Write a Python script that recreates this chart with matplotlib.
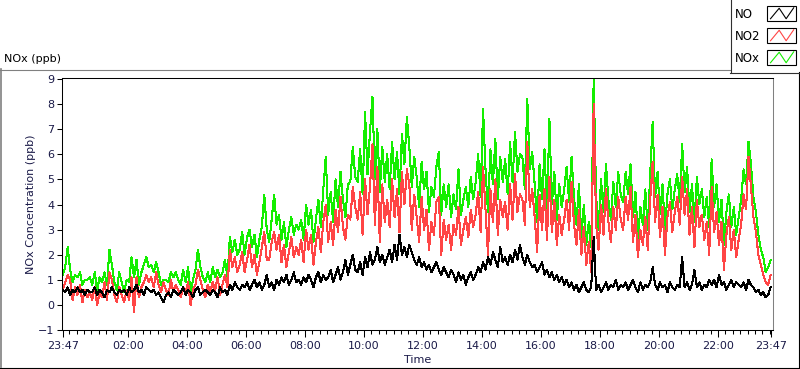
import numpy as np
import matplotlib.pyplot as plt
from matplotlib.patches import Rectangle

plt.rcParams['font.family'] = ['DejaVu Sans']

# 5-minute samples starting 23:47, one line per hour (12 values)
no = [
    0.6, 0.5, 0.7, 0.4, 0.6, 0.5, 0.7, 0.5, 0.6, 0.4, 0.6, 0.5,
    0.5, 0.7, 0.4, 0.6, 0.5, 0.3, 0.6, 0.5, 0.7, 0.5, 0.4, 0.6,
    0.5, 0.6, 0.4, 0.7, 0.5, 0.6, 0.8, 0.5, 0.6, 0.4, 0.7, 0.6,
    0.5, 0.6, 0.4, 0.5, 0.3, 0.1, 0.4, 0.5, 0.3, 0.6, 0.5, 0.4,
    0.5, 0.7, 0.4, 0.6, 0.5, 0.3, 0.6, 0.7, 0.4, 0.5, 0.6, 0.5,
    0.4, 0.6, 0.5, 0.3, 0.7, 0.5, 0.6, 0.4, 0.8, 0.6, 0.9, 0.7,
    0.6, 0.8, 0.7, 0.9, 0.6, 0.8, 1.0, 0.7, 0.9, 0.6, 0.8, 1.2,
    0.7, 0.9, 0.6, 1.0, 0.8, 1.1, 0.9, 1.2, 0.8, 1.0, 1.3, 0.9,
    1.0, 0.8, 1.1, 0.9, 1.2, 1.0, 0.7, 1.1, 1.3, 0.9, 1.2, 1.0,
    1.1, 1.4, 0.9, 1.2, 1.5, 1.0, 1.3, 1.8, 1.2, 1.6, 2.0, 1.4,
    1.3, 1.7, 1.2, 1.9, 1.5, 2.1, 1.6, 1.8, 2.3, 1.7, 2.0, 1.6,
    1.9, 2.2, 1.7, 2.4, 1.8, 2.8, 2.0, 2.3, 1.9, 2.4, 2.1, 1.8,
    1.6, 1.9, 1.5, 1.7, 1.4, 1.6, 1.3, 1.5, 1.7, 1.4, 1.2, 1.5,
    1.3, 1.1, 1.4, 1.2, 0.9, 1.3, 1.0, 1.2, 0.8, 1.1, 1.3, 1.0,
    1.2, 1.5, 1.3, 1.7, 1.4, 1.9, 1.6, 2.1, 1.8, 1.5, 2.3, 1.7,
    1.9, 1.6, 2.0, 1.7, 2.2, 1.8, 2.4, 1.9, 1.6, 2.0, 1.7, 1.5,
    1.6, 1.3, 1.5, 1.7, 1.2, 1.4, 1.1, 1.3, 1.0, 1.2, 0.9, 1.1,
    0.8, 1.0, 0.7, 0.9, 0.6, 0.8, 0.5, 0.7, 0.9, 0.6, 0.5, 0.7,
    2.7, 0.6, 0.8, 0.5, 0.7, 0.9, 0.6, 0.8, 0.7, 1.0, 0.6, 0.8,
    0.7, 0.9, 0.6, 0.8, 1.0, 0.7, 0.5, 0.9, 0.6, 0.8, 0.7, 0.9,
    1.5, 0.8, 0.6, 0.9, 0.7, 0.8, 0.5, 0.9, 0.7, 0.6, 0.8, 0.7,
    1.9, 0.7, 0.9, 0.6, 0.8, 1.4, 0.7, 0.9, 0.6, 0.8, 0.7, 1.0,
    0.8, 1.0, 0.7, 1.2, 0.8, 0.9, 0.6, 0.8, 1.0, 0.7, 0.9, 0.8,
    0.7, 0.9, 0.6, 1.0, 0.8, 0.7, 0.5, 0.6, 0.4, 0.5, 0.3, 0.4,
    0.7,
]
no2 = [
    0.6, 0.9, 1.2, 1.0, 0.2, 0.7, 0.4, 0.8, 0.1, 0.6, 0.3, 0.5,
    0.2, 0.7, 0.0, 0.5, 0.3, 0.9, 0.2, 1.3, 1.0, 0.4, 0.1, 0.7,
    0.4, 0.1, 0.6, 0.2, 1.1, -0.3, 1.1, 0.3, 0.7, 0.9, 1.2, 0.9,
    1.1, 0.7, 1.3, 0.8, 0.5, 0.9, 0.6, 0.4, 1.0, 0.5, 0.8, 0.6,
    0.3, 0.7, 0.5, 0.9, 0.0, 0.6, 0.8, 1.4, 1.0, 0.6, 0.3, 0.8,
    0.5, 0.9, 0.6, 1.1, 0.4, 0.8, 1.2, 0.7, 2.2, 1.5, 1.9, 1.3,
    1.6, 2.1, 1.3, 1.8, 2.4, 1.5, 2.0, 1.2, 1.7, 2.3, 2.9, 1.8,
    1.8, 2.5, 2.9, 2.2, 2.8, 1.7, 2.4, 1.5, 2.1, 2.7, 1.9, 2.3,
    2.0, 2.6, 1.7, 3.0, 2.2, 2.8, 1.6, 2.5, 3.1, 2.1, 3.3, 4.0,
    2.5, 3.3, 2.4, 3.8, 2.9, 4.3, 3.1, 2.6, 3.6, 3.4, 4.7, 3.9,
    3.4, 4.5, 2.8, 5.0, 3.6, 4.7, 6.4, 3.2, 5.5, 2.5, 4.8, 3.3,
    4.2, 3.1, 5.0, 3.5, 4.6, 2.9, 5.3, 4.0, 5.4, 4.8, 3.0, 4.4,
    3.5, 2.5, 4.3, 3.0, 3.8, 2.2, 3.3, 2.8, 4.1, 4.3, 2.0, 3.4,
    2.6, 3.2, 2.2, 3.2, 2.8, 3.9, 2.4, 3.0, 3.5, 2.7, 3.8, 3.1,
    3.6, 4.5, 2.9, 5.5, 3.8, 2.0, 4.6, 3.3, 5.0, 2.8, 4.2, 3.5,
    4.1, 3.0, 4.8, 3.4, 5.2, 3.7, 4.4, 4.2, 3.2, 6.5, 3.9, 4.6,
    3.5, 2.1, 4.4, 3.0, 4.6, 2.6, 5.1, 2.9, 4.2, 2.4, 3.6, 2.8,
    3.4, 4.2, 3.0, 4.9, 3.2, 2.4, 3.8, 2.0, 3.1, 1.6, 2.5, 1.3,
    8.0, 3.2, 2.2, 4.0, 2.8, 4.6, 3.3, 2.5, 3.9, 3.0, 4.3, 3.4,
    3.0, 4.3, 3.4, 4.7, 2.5, 3.6, 1.9, 3.0, 2.4, 3.5, 2.2, 4.2,
    5.7, 3.3, 4.4, 2.7, 3.9, 2.0, 3.5, 4.1, 2.9, 3.7, 4.3, 3.2,
    5.1, 3.6, 4.6, 2.8, 3.9, 2.3, 4.2, 3.1, 3.6, 2.6, 3.3, 2.0,
    4.7, 2.9, 3.7, 2.4, 3.3, 1.4, 2.8, 3.5, 2.2, 3.0, 1.9, 2.6,
    3.2, 4.4, 3.8, 5.9, 4.7, 3.5, 2.9, 2.0, 1.6, 1.2, 0.9, 0.8,
    1.2,
]
nox = [
    1.2, 1.5, 2.3, 1.4, 0.9, 1.2, 1.1, 1.3, 0.8, 1.0, 1.0, 1.1,
    0.8, 1.3, 0.6, 1.1, 0.9, 1.3, 0.8, 2.2, 1.6, 0.9, 0.6, 1.3,
    0.9, 0.5, 1.0, 0.9, 1.9, 1.1, 1.8, 0.8, 1.3, 1.6, 1.9, 1.5,
    1.6, 1.3, 1.7, 1.3, 0.8, 1.0, 1.0, 0.9, 1.3, 1.1, 1.3, 1.0,
    0.8, 1.4, 0.9, 1.5, 0.5, 1.0, 1.4, 2.2, 1.5, 1.1, 0.9, 1.3,
    0.9, 1.5, 1.1, 1.4, 1.1, 1.3, 1.8, 1.1, 2.7, 2.1, 2.6, 2.0,
    2.2, 2.9, 2.0, 2.7, 3.0, 2.3, 2.8, 1.9, 2.6, 3.1, 4.4, 3.0,
    2.5, 3.4, 4.4, 3.2, 3.6, 2.6, 3.3, 2.3, 3.0, 3.5, 2.8, 3.2,
    3.0, 3.4, 2.6, 4.0, 3.2, 3.8, 2.5, 3.4, 4.2, 3.1, 4.6, 5.9,
    3.6, 4.5, 3.3, 5.0, 3.9, 5.3, 4.2, 3.5, 4.8, 4.9, 6.3, 5.1,
    4.9, 6.2, 4.4, 7.7, 5.2, 6.9, 8.3, 5.0, 7.0, 4.5, 6.3, 4.9,
    6.0, 4.6, 6.5, 5.0, 6.1, 4.4, 6.8, 5.6, 7.5, 6.3, 4.7, 5.9,
    5.1, 3.9, 5.7, 4.6, 5.3, 3.7, 4.7, 4.3, 5.5, 6.1, 3.6, 4.8,
    3.9, 4.8, 3.5, 4.4, 3.8, 5.4, 3.6, 4.2, 4.7, 3.9, 5.1, 4.2,
    4.9, 6.0, 4.3, 7.8, 5.4, 3.7, 6.2, 4.8, 6.6, 4.2, 5.9, 4.9,
    5.8, 4.4, 6.5, 4.9, 6.9, 5.3, 6.0, 5.9, 4.6, 8.2, 5.4, 6.1,
    4.8, 3.3, 5.6, 4.2, 6.2, 3.7, 7.4, 4.0, 5.3, 3.4, 4.8, 3.9,
    4.6, 5.5, 4.1, 5.9, 4.3, 3.2, 4.8, 2.7, 4.0, 2.4, 3.3, 2.3,
    9.0, 4.3, 3.0, 5.0, 3.7, 5.6, 4.2, 3.4, 4.9, 3.9, 5.3, 4.4,
    4.1, 5.3, 4.4, 5.6, 3.5, 4.5, 2.6, 3.9, 3.2, 4.6, 3.0, 5.2,
    7.3, 4.3, 5.3, 3.6, 4.8, 3.0, 4.4, 5.0, 3.8, 4.6, 5.2, 4.1,
    6.4, 4.5, 5.5, 3.7, 4.8, 3.3, 5.1, 4.0, 4.6, 3.5, 4.3, 3.1,
    5.8, 3.9, 4.8, 3.3, 4.2, 2.4, 3.7, 4.4, 3.1, 3.9, 2.8, 3.5,
    4.2, 5.4, 4.8, 6.5, 5.6, 4.3, 3.7, 2.8, 2.2, 1.9, 1.3, 1.5,
    1.8,
]

step_min = 5
tick_hours = [0, 2.2167, 4.2167, 6.2167, 8.2167, 10.2167, 12.2167,
              14.2167, 16.2167, 18.2167, 20.2167, 22.2167, 24]
tick_labels = ['23:47', '02:00', '04:00', '06:00', '08:00', '10:00', '12:00',
               '14:00', '16:00', '18:00', '20:00', '22:00', '23:47']
series_names = ['NO', 'NO2', 'NOx']
series_colors = ['#000000', '#ff4545', '#14ee00']

W, H = 800, 369
navy = '#1a1a48'
fig = plt.figure(figsize=(W / 100, H / 100), dpi=100)

# overlay in pixel coordinates for the panel frame and legend
ov = fig.add_axes([0, 0, 1, 1])
ov.set_xlim(0, W)
ov.set_ylim(H, 0)
ov.axis('off')
ov.plot([0, 730], [69.5, 69.5], color='#808080', lw=0.8)
ov.plot([0.5, 0.5], [69, 367], color='#808080', lw=1.2)
ov.plot([0, 800], [367.5, 367.5], color='#000000', lw=0.8)
ov.plot([798.5, 798.5], [72, 368], color='#000000', lw=0.8)
ov.plot([730.5, 730.5], [0, 72], color='#303030', lw=0.8)
ov.plot([730, 800], [72.5, 72.5], color='#303030', lw=0.8)

zig_x = np.array([0.12, 0.42, 0.66, 0.92])
zig_y = np.array([0.85, 0.15, 0.85, 0.12])
for i, (name, col) in enumerate(zip(series_names, series_colors)):
    yc = 13.5 + 22 * i
    ov.text(735, yc + 0.5, name, fontsize=8.5, color='black', ha='left', va='center')
    ov.add_patch(Rectangle((767, yc - 7.5), 29, 15, fill=False, ec='black', lw=0.8))
    ov.plot(767 + zig_x * 29, yc - 7.5 + zig_y * 15, color=col, lw=0.8)

fig.text(4 / W, 1 - 59 / H, 'NOx (ppb)', fontsize=8, color='black', ha='left', va='center')
fig.text(31 / W, 1 - 204 / H, 'NOx Concentration (ppb)', fontsize=8, color=navy,
         rotation=90, ha='center', va='center')
fig.text(418 / W, 1 - 360 / H, 'Time', fontsize=8, color=navy, ha='center', va='center')

ax = fig.add_axes([62 / W, 1 - 330 / H, (773 - 62) / W, (330 - 78) / H])
t = np.arange(len(no)) * step_min / 60
ax.plot(t, nox, color=series_colors[2], lw=0.75, antialiased=False, zorder=1)
ax.plot(t, no2, color=series_colors[1], lw=0.75, antialiased=False, zorder=2)
ax.plot(t, no, color=series_colors[0], lw=0.75, antialiased=False, zorder=3)

ax.set_xlim(-0.025, 24.08)
ax.set_ylim(-1, 9.04)
ax.set_yticks(range(-1, 10))
ax.set_xticks(tick_hours, tick_labels)
minor = np.arange(13 / 60, 24, 0.25)
ax.set_xticks(minor, minor=True)
ax.tick_params(axis='y', direction='out', length=3.6, width=0.75, pad=2,
               labelsize=8, labelcolor=navy)
ax.tick_params(axis='x', which='major', direction='out', length=5, width=0.75, pad=3,
               labelsize=8, labelcolor=navy)
ax.tick_params(axis='x', which='minor', direction='out', length=3, width=0.75)
for s in ['left', 'bottom', 'top']:
    ax.spines[s].set_linewidth(0.75)
    ax.spines[s].set_color('black')
ax.spines['right'].set_linewidth(0.75)
ax.spines['right'].set_color('#808080')

fig.savefig('out.png', dpi=100)
